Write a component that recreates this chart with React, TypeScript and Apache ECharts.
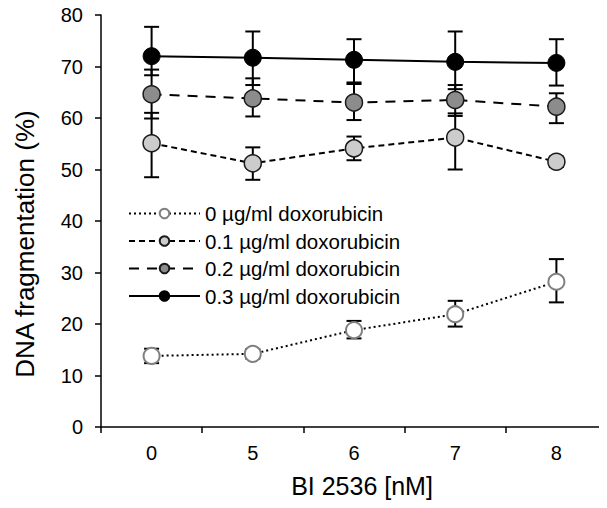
import React, { useEffect, useRef } from "react";
import * as echarts from "echarts";

const categories = ["0", "5", "6", "7", "8"];
const seriesNames = [
  "0 µg/ml doxorubicin",
  "0.1 µg/ml doxorubicin",
  "0.2 µg/ml doxorubicin",
  "0.3 µg/ml doxorubicin",
];
const dox0 = [13.8, 14.2, 18.8, 21.9, 28.2];
const dox0Low = [12.4, 13.3, 17.2, 19.5, 24.2];
const dox0High = [15.2, 15.1, 20.6, 24.5, 32.6];
const dox01 = [55.1, 51.2, 54.1, 56.2, 51.5];
const dox01Low = [48.5, 48.0, 51.8, 50.0, 50.5];
const dox01High = [61.0, 54.3, 56.4, 60.9, 52.5];
const dox02 = [64.6, 63.8, 63.0, 63.5, 62.2];
const dox02Low = [59.9, 60.3, 59.6, 60.4, 59.0];
const dox02High = [69.4, 67.7, 66.6, 66.4, 64.8];
const dox03 = [72.0, 71.7, 71.3, 70.9, 70.7];
const dox03Low = [68.3, 66.4, 66.9, 65.6, 66.3];
const dox03High = [77.7, 76.8, 75.3, 76.8, 75.3];
const yTicks = [0, 10, 20, 30, 40, 50, 60, 70, 80];
const xTitle = "BI 2536 [nM]";
const yTitle = "DNA fragmentation (%)";

const FONT = "Liberation Sans, Arial, sans-serif";

export default function App() {
  const ref = useRef<HTMLDivElement>(null);
  useEffect(() => {
    if (!ref.current) return;
    const chart = echarts.init(ref.current, null, { renderer: "svg" });
    const errData: number[][] = [];
    const lows = [dox0Low, dox01Low, dox02Low, dox03Low];
    const highs = [dox0High, dox01High, dox02High, dox03High];
    lows.forEach((lo, s) => {
      lo.forEach((v, i) => errData.push([i, v, highs[s][i]]));
    });
    const lineSeries = (
      name: string,
      data: number[],
      fill: string,
      border: string,
      borderWidth: number,
      type: any,
      size: number
    ) => ({
      name,
      type: "line",
      data,
      z: 3,
      symbol: "circle",
      symbolSize: size,
      itemStyle: { color: fill, borderColor: border, borderWidth },
      lineStyle: { color: "#000", width: 2, type },
    });
    chart.setOption({
      animation: false,
      textStyle: { fontFamily: FONT },
      grid: { left: 101, top: 15, width: 509, height: 412 },
      legend: {
        data: seriesNames,
        orient: "vertical",
        left: 128,
        top: 203,
        padding: 0,
        itemWidth: 71,
        itemHeight: 12,
        itemGap: 6.5,
        textStyle: { fontSize: 20.5, color: "#000", fontFamily: FONT },
      },
      graphic: [
        {
          type: "text",
          x: 362,
          y: 486,
          silent: true,
          style: {
            text: xTitle,
            font: `25px ${FONT}`,
            fill: "#000",
            align: "center",
            verticalAlign: "middle",
          },
        },
        {
          type: "text",
          x: 25,
          y: 244,
          rotation: Math.PI / 2,
          silent: true,
          style: {
            text: yTitle,
            font: `26px ${FONT}`,
            fill: "#000",
            align: "center",
            verticalAlign: "middle",
          },
        },
      ],
      xAxis: {
        type: "category",
        data: categories,
        boundaryGap: true,
        axisLine: { lineStyle: { color: "#000", width: 1.5 } },
        axisTick: { show: true, length: 6, lineStyle: { color: "#000", width: 1.5 } },
        axisLabel: { fontSize: 20, color: "#000", margin: 16, fontFamily: FONT },
        splitLine: { show: false },
      },
      yAxis: {
        type: "value",
        min: yTicks[0],
        max: yTicks[yTicks.length - 1],
        interval: 10,
        axisLine: { show: true, lineStyle: { color: "#000", width: 1.5 } },
        axisTick: { show: true, length: 6, lineStyle: { color: "#000", width: 1.5 } },
        axisLabel: { fontSize: 20, color: "#000", margin: 18, fontFamily: FONT },
        splitLine: { show: false },
      },
      series: [
        {
          type: "custom",
          z: 1,
          silent: true,
          data: errData,
          renderItem: (params: any, api: any) => {
            const lo = api.coord([api.value(0), api.value(1)]);
            const hi = api.coord([api.value(0), api.value(2)]);
            const w = 7.5;
            const st = { stroke: "#000", lineWidth: 2 };
            return {
              type: "group",
              children: [
                { type: "line", shape: { x1: lo[0], y1: lo[1], x2: hi[0], y2: hi[1] }, style: st },
                { type: "line", shape: { x1: lo[0] - w, y1: lo[1], x2: lo[0] + w, y2: lo[1] }, style: st },
                { type: "line", shape: { x1: hi[0] - w, y1: hi[1], x2: hi[0] + w, y2: hi[1] }, style: st },
              ],
            };
          },
        },
        lineSeries(seriesNames[0], dox0, "#ffffff", "#808080", 2, [2, 3], 16),
        lineSeries(seriesNames[1], dox01, "#cccccc", "#1a1a1a", 1.5, [6, 4], 17),
        lineSeries(seriesNames[2], dox02, "#8c8c8c", "#1a1a1a", 1.5, [10, 8], 17),
        lineSeries(seriesNames[3], dox03, "#000000", "#000000", 1, "solid", 17),
      ],
    });
    return () => chart.dispose();
  }, []);
  return <div ref={ref} style={{ width: 607, height: 508, margin: -8 }} />;
}
